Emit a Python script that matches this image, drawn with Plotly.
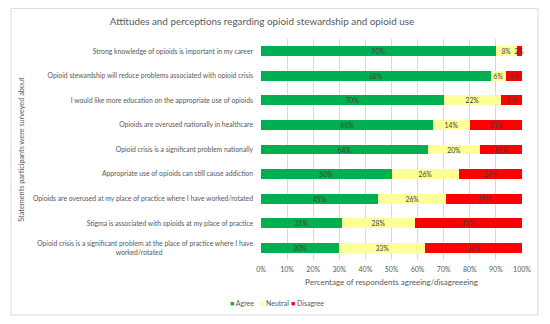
import plotly.graph_objects as go

statements = [
    "Strong knowledge of opioids is important in my career",
    "Opioid stewardship will reduce problems associated with opioid crisis",
    "I would like more education on the appropriate use of opioids",
    "Opioids are overused nationally in healthcare",
    "Opioid crisis is a significant problem nationally",
    "Appropriate use of opioids can still cause addiction",
    "Opioids are overused at my place of practice where I have worked/rotated",
    "Stigma is associated with opioids at my place of practice",
    "Opioid crisis is a significant problem at the place of practice where I have worked/rotated",
]
agree = [90, 88, 70, 66, 64, 50, 45, 31, 30]
neutral = [8, 6, 22, 14, 20, 26, 26, 28, 33]
disagree = [2, 6, 8, 20, 16, 24, 29, 41, 37]
x_ticks = [0, 10, 20, 30, 40, 50, 60, 70, 80, 90, 100]
series_names = ["Agree", "Neutral", "Disagree"]
series_colors = ["#00B050", "#FFFF99", "#FF0000"]

FONT = "Lato"
GRAY = "#595959"

# wrapped display text for the long last statement (second line centred)
def display(s):
    if len(s) > 80:
        head, tail = s.rsplit(" ", 1)
        return head + "<br>" + tail + "\u00a0" * 52
    return s

W, H = 542, 316          # page body has an 8px margin
OFF = 8
PL, PR, PT, PB = 261, 522, 38.7, 260   # plot area in screenshot px

fig = go.Figure()
for name, vals, col in zip(series_names, [agree, neutral, disagree], series_colors):
    fig.add_trace(go.Bar(
        y=statements, x=vals, name=name, orientation="h",
        marker=dict(color=col, line=dict(width=0)),
        text=[f"{v}%" for v in vals], textposition="inside", textangle=0,
        insidetextanchor="middle", constraintext="none",
        textfont=dict(family=FONT, size=6.8, color="#404040"),
        hoverinfo="skip", showlegend=False, cliponaxis=False,
    ))

fig.update_layout(
    barmode="stack", bargap=0.6,
    width=W, height=H,
    margin=dict(l=PL - OFF, r=W - (PR - OFF), t=PT - OFF, b=H - (PB - OFF)),
    paper_bgcolor="white", plot_bgcolor="white",
    font=dict(family=FONT, color=GRAY),
    title=dict(text="Attitudes and perceptions regarding opioid stewardship and opioid use",
               x=(262 - OFF) / W, xanchor="center", y=1 - (22 - OFF) / H, yanchor="middle",
               font=dict(family=FONT, size=9.9, color=GRAY)),
    xaxis=dict(range=[0, 100], tickvals=x_ticks, ticktext=[f"{t}%" for t in x_ticks],
               showgrid=True, gridcolor="#D9D9D9", gridwidth=1, zeroline=False,
               tickfont=dict(size=7, color=GRAY), automargin=False, ticklabelstandoff=4,
               title=dict(text="Percentage of respondents agreeing/disagreeeing",
                          font=dict(size=8, color=GRAY), standoff=7),
               ticks="", fixedrange=True),
    yaxis=dict(autorange="reversed", tickfont=dict(size=6.8, color=GRAY), automargin=False,
               tickvals=statements, ticktext=[display(s) for s in statements],
               title=dict(text="Statements participants were surveyed about",
                          font=dict(size=7.3, color=GRAY), standoff=7),
               ticks="", showline=False, ticklabelstandoff=7),
    showlegend=False,
)

# legend drawn as text entries below the axis title
legend_x = [228, 258, 289]
for name, col, lx in zip(series_names, series_colors, legend_x):
    fig.add_annotation(
        text=f"<span style='color:{col}'>■</span> {name}",
        xref="paper", yref="paper",
        x=(lx - PL) / (PR - PL), y=(PB - 303) / (PB - PT),
        xanchor="left", yanchor="middle", showarrow=False,
        font=dict(family=FONT, size=7, color=GRAY),
    )

fig.add_shape(type="rect", xref="paper", yref="paper",
              x0=(11 - PL) / (PR - PL), x1=(538 - PL) / (PR - PL),
              y0=(PB - 315) / (PB - PT), y1=(PB - 8) / (PB - PT),
              line=dict(color="#D9D9D9", width=1), layer="below")

fig.write_html("out.html")
